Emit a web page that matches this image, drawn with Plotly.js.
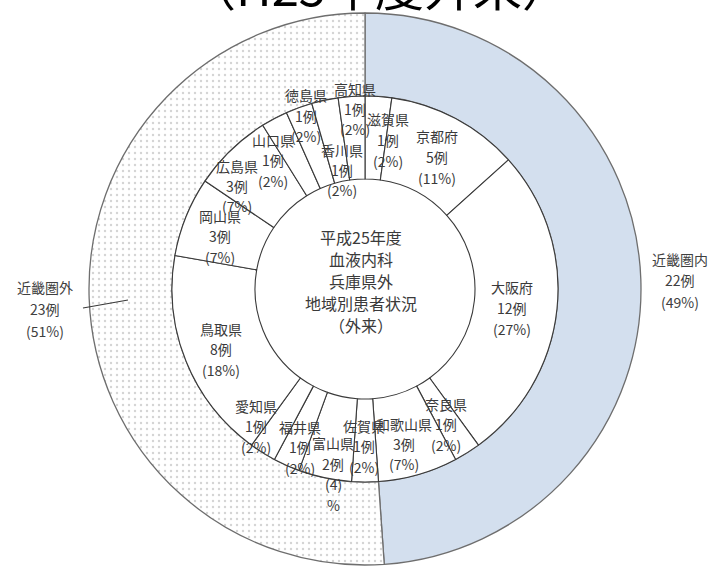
<!DOCTYPE html>
<html>
<head>
<meta charset="utf-8">
<script src="https://cdn.plot.ly/plotly-3.0.1.min.js"></script>
<style>
  html, body { margin: 0; padding: 0; background: #fff; }
  #chart { width: 713px; height: 566px; }
</style>
</head>
<body>
<div id="chart"></div>
<script>
// Outer ring: inside / outside the Kinki region
const regionLabels = ['近畿圏内', '近畿圏外'];
const regionCounts = [22, 23];

// Inner ring: prefectures, clockwise from 12 o'clock
const prefLabels = ['滋賀県', '京都府', '大阪府', '奈良県', '和歌山県', '佐賀県', '富山県', '福井県',
                    '愛知県', '鳥取県', '岡山県', '広島県', '山口県', '徳島県', '香川県', '高知県'];
const prefCounts = [1, 5, 12, 1, 3, 1, 2, 1, 1, 8, 3, 3, 1, 1, 1, 1];

const centerLines = ['平成25年度', '血液内科', '兵庫県外', '地域別患者状況', '（外来）'];
const headline = '（H25年度外来）';

// ---- layout constants (pixels) ----
const W = 713, H = 566;
const CX = 365, CY = 289;           // pie centre
const R_OUT = 276, R_MID = 193, R_HOLE = 110;
const FONT = '"Noto Sans CJK JP", "Noto Sans", sans-serif';

// label anchor points (x, centre y) for each slice, in pixels
const regionLabelPos = [[680, 280], [45, 309]];
const prefLabelPos = [
  [388, 140], [437, 157], [512, 308], [446, 424], [404, 444], [364, 446], [333, 474], [300, 447],
  [256, 426], [221, 349], [220, 236], [237, 186], [273, 160], [306, 116], [342, 170], [355, 109]
];

const px = x => x / W;
const py = y => 1 - y / H;
const domainFor = r => ({
  x: [px(CX - r), px(CX + r)],
  y: [py(CY + r), py(CY - r)]
});

const total = prefCounts.reduce((a, b) => a + b, 0);
const pct = c => Math.round(c / total * 100);

const outer = {
  type: 'pie',
  labels: regionLabels,
  values: regionCounts,
  sort: false,
  direction: 'clockwise',
  rotation: 0,
  hole: R_MID / R_OUT,
  domain: domainFor(R_OUT),
  textinfo: 'none',
  hoverinfo: 'skip',
  showlegend: false,
  marker: {
    colors: ['#d3dfee', '#ffffff'],
    line: { color: '#6e6e6e', width: 1.3 },
    pattern: {
      shape: ['', '.'],
      fgcolor: '#d4d4d4',
      bgcolor: '#ffffff',
      size: 6,
      solidity: 0.12,
      fillmode: 'replace'
    }
  }
};

const inner = {
  type: 'pie',
  labels: prefLabels,
  values: prefCounts,
  sort: false,
  direction: 'clockwise',
  rotation: 0,
  hole: R_HOLE / R_MID,
  domain: domainFor(R_MID),
  textinfo: 'none',
  hoverinfo: 'skip',
  showlegend: false,
  marker: {
    colors: prefLabels.map(() => '#ffffff'),
    line: { color: '#3a3a3a', width: 1.1 }
  }
};

const annotations = [];
function addBlock(lines, x, yc, gap, size, color) {
  const n = lines.length;
  lines.forEach((t, i) => {
    annotations.push({
      xref: 'paper', yref: 'paper',
      x: px(x), y: py(yc + (i - (n - 1) / 2) * gap),
      xanchor: 'center', yanchor: 'middle',
      text: t, showarrow: false,
      font: { family: FONT, size: size, color: color }
    });
  });
}

// region labels
regionLabels.forEach((name, i) => {
  const c = regionCounts[i];
  addBlock([name, c + '例', '(' + pct(c) + '%)'], regionLabelPos[i][0], regionLabelPos[i][1], 21.5, 14, '#404040');
});

// prefecture labels
prefLabels.forEach((name, i) => {
  const c = prefCounts[i];
  let lines = [name, c + '例', '(' + pct(c) + '%)'];
  if (name === '富山県') lines = [name, c + '例', '(' + pct(c) + ')', '%'];
  addBlock(lines, prefLabelPos[i][0], prefLabelPos[i][1], 20.5, 14, '#3a3a3a');
});

// text inside the hole
addBlock(centerLines, 361, 281, 22, 16, '#3a3a3a');

// headline, mostly above the visible area
annotations.push({
  xref: 'paper', yref: 'paper',
  x: px(379), y: py(22),
  xanchor: 'center', yanchor: 'bottom',
  text: headline, showarrow: false,
  font: { family: FONT, size: 49, color: '#000000' }
});

// leader line for the outer-left label
const shapes = [{
  type: 'line', xref: 'paper', yref: 'paper',
  x0: px(83), y0: py(308), x1: px(128), y1: py(300),
  line: { color: '#3a3a3a', width: 1.1 }
}];

const layout = {
  width: W, height: H,
  margin: { l: 0, r: 0, t: 0, b: 0 },
  paper_bgcolor: '#ffffff',
  plot_bgcolor: '#ffffff',
  showlegend: false,
  annotations: annotations,
  shapes: shapes
};

Plotly.newPlot('chart', [outer, inner], layout, { staticPlot: true, displayModeBar: false });
</script>
</body>
</html>
